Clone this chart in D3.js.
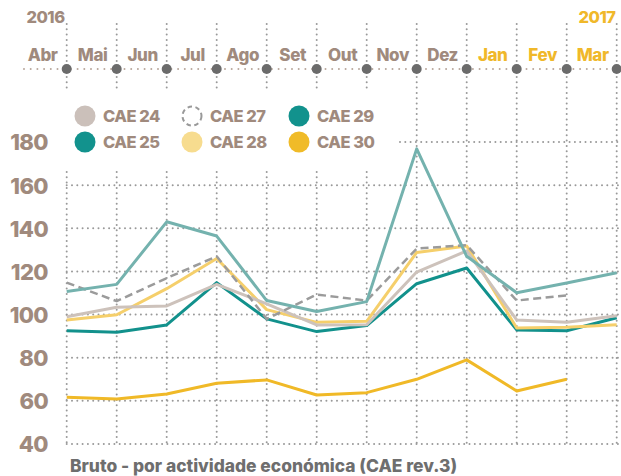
<!DOCTYPE html>
<html><head><meta charset="utf-8">
<script src="https://cdn.jsdelivr.net/npm/d3@7"></script>
<style>
html,body{margin:0;padding:0;background:#fff;}
svg{display:block;font-family:Inter,"DejaVu Sans",sans-serif;font-weight:800;}
</style></head>
<body>
<svg id="c" width="621" height="476"></svg>
<script>
const months = ["Abr","Mai","Jun","Jul","Ago","Set","Out","Nov","Dez","Jan","Fev","Mar"];
const yearLabels = ["2016","2017"];
const yTicks = [40,60,80,100,120,140,160,180];
const seriesNames = ["CAE 24","CAE 25","CAE 27","CAE 28","CAE 29","CAE 30"];
const cae24 = [99, 103.4, 104, 114, 105, 95.2, 95.3, 119.7, 129.5, 97.5, 96.4, 99.5];
const cae25 = [110.7, 114, 143, 136.4, 106.5, 101.4, 106, 176.8, 127, 110.1, 114.6, 119.4];
const cae27 = [114.8, 106.2, 116.9, 127, 98, 109.3, 106.5, 130.6, 132.2, 106.5, 108.9, null];
const cae28 = [97.5, 99.9, 112, 126, 102.3, 96.4, 96.9, 128.8, 131.8, 93.8, 94.1, 95.3];
const cae29 = [92.5, 91.8, 95.2, 114.8, 98, 92.1, 94.9, 114.3, 121.6, 92.9, 92.5, 98.5];
const cae30 = [61.7, 60.9, 63.2, 68.2, 69.7, 62.7, 63.8, 70, 79, 64.6, 70, null];

(function(){
const BROWN = "#a08a7d", GOLD = "#f0b82a", GRID = "#999";
const svg = d3.select("#c");
const x = d3.scalePoint().domain(months).range([66.7, 616.7]);
const y = d3.scaleLinear().domain([40,180]).range([444,142]);

// ---- top timeline ----
const tl = svg.append("g");
tl.append("line").attr("x1",24).attr("x2",621).attr("y1",69).attr("y2",69)
  .attr("stroke","#b8a79c").attr("stroke-width",2).attr("stroke-linecap","round").attr("stroke-dasharray","0 6.7");
months.forEach((m,i)=>{
  const gx = x(m);
  const bottom = i >= 7 ? 444 : 88;
  tl.append("line").attr("x1",gx).attr("x2",gx).attr("y1",24).attr("y2",bottom)
    .attr("stroke",GRID).attr("stroke-width",2).attr("stroke-linecap","round").attr("stroke-dasharray","0 5.3");
  if (i < 7) {
    svg.append("line").attr("x1",gx).attr("x2",gx).attr("y1",172).attr("y2",444)
      .attr("stroke",GRID).attr("stroke-width",2).attr("stroke-linecap","round").attr("stroke-dasharray","0 5.3");
  }
  tl.append("text").attr("x",gx-24).attr("y",61).attr("text-anchor","middle")
    .attr("font-size",17).attr("letter-spacing","-0.4").attr("fill", i>=9?GOLD:BROWN).text(m);
});
tl.append("text").attr("x",45.5).attr("y",23).attr("text-anchor","middle").attr("font-size",16.5)
  .attr("letter-spacing","-0.5").attr("fill",BROWN).text(yearLabels[0]);
tl.append("text").attr("x",597).attr("y",23).attr("text-anchor","middle").attr("font-size",16.5)
  .attr("letter-spacing","-0.5").attr("fill",GOLD).text(yearLabels[1]);

// ---- horizontal grid ----
yTicks.forEach(t=>{
  svg.append("line").attr("x1", t===180?400:66.7).attr("x2",619).attr("y1",y(t)).attr("y2",y(t))
    .attr("stroke",GRID).attr("stroke-width",2).attr("stroke-linecap","round").attr("stroke-dasharray","0 5.3");
});

// y axis labels
const yAxis = d3.axisLeft(y).tickValues(yTicks).tickSize(0).tickPadding(0);
const ya = svg.append("g").attr("transform","translate(48,0)").call(yAxis);
ya.select(".domain").remove();
ya.selectAll("text").attr("font-family","Inter,'DejaVu Sans',sans-serif").attr("font-weight",800)
  .attr("font-size",22).attr("letter-spacing","-0.6").attr("fill",BROWN).attr("dy","0.36em");

// timeline dots
months.forEach(m=>{
  tl.append("circle").attr("cx",x(m)).attr("cy",69).attr("r",5).attr("fill","#6b6b6b");
});

// ---- lines ----
const line = d3.line().defined(d=>d!=null).x((d,i)=>x(months[i])).y(d=>y(d));
const order = [
  {data:cae30, color:"#f0b927", w:3},
  {data:cae29, color:"#12918c", w:3},
  {data:cae28, color:"#f5cf6b", w:3},
  {data:cae24, color:"#cdc2bb", w:3},
  {data:cae27, color:"#9b9b9b", w:2.5, dash:"8 4.5"},
  {data:cae25, color:"#74b2ae", w:3}
];
order.forEach(s=>{
  svg.append("path").datum(s.data).attr("d",line).attr("fill","none")
    .attr("stroke",s.color).attr("stroke-width",s.w).attr("stroke-linejoin","round")
    .attr("stroke-dasharray",s.dash||null);
});

// ---- legend ----
const legendItems = [
  {name:seriesNames[0], fill:"#cbc0ba", col:0, row:0},
  {name:seriesNames[2], fill:"none", dash:true, col:1, row:0},
  {name:seriesNames[4], fill:"#12928d", col:2, row:0},
  {name:seriesNames[1], fill:"#12928d", col:0, row:1},
  {name:seriesNames[3], fill:"#f7dc8f", col:1, row:1},
  {name:seriesNames[5], fill:"#f0bb28", col:2, row:1}
];
legendItems.forEach(it=>{
  const cx = 85 + it.col*107, cy = 116 + it.row*26;
  const c = svg.append("circle").attr("cx",cx).attr("cy",cy).attr("r", it.dash?9.5:10.5);
  if (it.dash) c.attr("fill","#fff").attr("stroke","#999").attr("stroke-width",2).attr("stroke-dasharray","4.5 3.5");
  else c.attr("fill",it.fill);
  svg.append("text").attr("x",cx+18).attr("y",cy).attr("dy","0.36em").attr("font-size",16.5)
    .attr("letter-spacing","-0.5").attr("fill",BROWN).text(it.name);
});

// bottom caption
svg.append("text").attr("x",70).attr("y",472).attr("font-size",17.4).attr("letter-spacing","0")
  .attr("fill","#6e6e6e").text("Bruto - por actividade económica (CAE rev.3)");
})();
</script>
</body></html>
